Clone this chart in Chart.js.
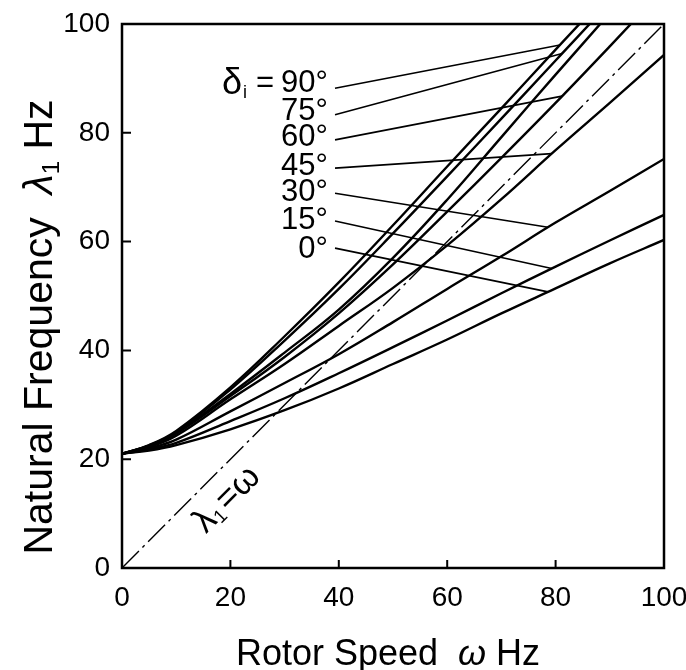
<!DOCTYPE html>
<html>
<head>
<meta charset="utf-8">
<script src="https://cdn.jsdelivr.net/npm/chart.js@4.4.0/dist/chart.umd.min.js"></script>
<style>
  html, body { margin: 0; padding: 0; background: #fff; }
  canvas { display: block; }
</style>
</head>
<body>
<canvas id="chart" width="686" height="670"></canvas>
<script>
// rotor speed (Hz) and natural frequency curves (Hz)
const rotorSpeed = [0, 5, 10, 20, 30, 40, 50, 60, 70, 80, 90, 100];
const freqDelta0  = [21, 21.6, 22.6, 25.5, 29.0, 33.0, 37.5, 42.0, 46.8, 51.4, 56.0, 60.3];
const freqDelta15 = [21, 21.8, 23.0, 27.0, 31.2, 35.8, 40.6, 45.5, 50.5, 55.4, 60.2, 64.9];
const freqDelta30 = [21, 22.0, 23.6, 28.8, 34.0, 39.3, 45.2, 51.3, 57.3, 63.5, 69.3, 75.2];
const freqDelta45 = [21, 22.2, 24.3, 31.0, 37.5, 44.5, 51.5, 59.3, 67.8, 76.8, 85.5, 94.3];
const freqDelta60 = [21, 22.4, 24.7, 31.6, 38.8, 46.8, 55.8, 65.5, 75.4, 85.5, 95.9, 106.5];
const freqExtra   = [21, 22.5, 24.9, 32.0, 39.6, 47.5, 57.0, 67.7, 79.2, 90.7, 102.0, 113.5];
const freqDelta75 = [21, 22.5, 25.0, 32.8, 41.8, 51.3, 61.5, 72.0, 82.6, 93.3, 104.0, 115];
const freqDelta90 = [21, 22.6, 25.2, 33.2, 42.6, 52.5, 63.0, 73.8, 84.5, 95.3, 106.0, 117];
const syncLine = [0, 100];   // lambda1 = omega

const xTicks = [0, 20, 40, 60, 80, 100];
const yTicks = [0, 20, 40, 60, 80, 100];

// labels for the curves and their leader lines
const labelDeg = ['90', '75', '60', '45', '30', '15', '0'];
const labelCurves = [freqDelta90, freqDelta75, freqDelta60, freqDelta45, freqDelta30, freqDelta15, freqDelta0];
const labelY = [89.0, 84.0, 79.2, 73.9, 69.1, 63.8, 58.6];
const labelRightX = 38.0;
const leaderStartX = 39.3;
const leaderStartY = [88.2, 83.3, 78.7, 73.5, 68.9, 63.8, 58.8];
const leaderEndX = [80.8, 81.2, 81.2, 79.3, 78.6, 79.3, 78.6];

const FONT = "'Liberation Sans', Arial, sans-serif";

function interp(xs, ys, v) {
  for (let i = 1; i < xs.length; i++) {
    if (v <= xs[i]) {
      const t = (v - xs[i - 1]) / (xs[i] - xs[i - 1]);
      return ys[i - 1] + t * (ys[i] - ys[i - 1]);
    }
  }
  return ys[ys.length - 1];
}

function curve(values) {
  return {
    data: rotorSpeed.map((s, i) => ({ x: s, y: values[i] })),
    borderColor: '#000',
    borderWidth: 2.4,
    pointRadius: 0,
    tension: 0.4,
    fill: false
  };
}

// no extra room for the edge tick labels
function noPad(s) {
  s.paddingLeft = 0; s.paddingRight = 0; s.paddingTop = 0; s.paddingBottom = 0;
}

const decor = {
  id: 'decor',
  afterDatasetsDraw(chart) {
    const { ctx, chartArea: a, scales: { x, y } } = chart;
    ctx.save();
    ctx.strokeStyle = '#000';
    ctx.fillStyle = '#000';

    // frame
    ctx.lineWidth = 2.5;
    ctx.strokeRect(a.left, a.top, a.right - a.left, a.bottom - a.top);

    // inward tick marks
    ctx.lineWidth = 2;
    ctx.beginPath();
    xTicks.slice(1, -1).forEach(v => {
      const px = x.getPixelForValue(v);
      ctx.moveTo(px, a.bottom); ctx.lineTo(px, a.bottom - 8);
    });
    yTicks.slice(1, -1).forEach(v => {
      const py = y.getPixelForValue(v);
      ctx.moveTo(a.left, py); ctx.lineTo(a.left + 9, py);
    });
    ctx.stroke();

    // leader lines
    ctx.lineWidth = 1.6;
    ctx.beginPath();
    labelCurves.forEach((c, i) => {
      ctx.moveTo(x.getPixelForValue(leaderStartX), y.getPixelForValue(leaderStartY[i]));
      ctx.lineTo(x.getPixelForValue(leaderEndX[i]), y.getPixelForValue(interp(rotorSpeed, c, leaderEndX[i])));
    });
    ctx.stroke();

    // curve labels
    ctx.textBaseline = 'middle';
    const rx = x.getPixelForValue(labelRightX);
    labelDeg.forEach((d, i) => {
      const py = y.getPixelForValue(labelY[i]);
      ctx.font = '31px ' + FONT;
      ctx.textAlign = 'right';
      const txt = d + '°';
      ctx.fillText(txt, rx, py);
      if (i === 0) {
        let left = rx - ctx.measureText(txt).width - 7;
        ctx.fillText('=', left, py);
        left -= ctx.measureText('=').width + 9;
        ctx.font = '18px ' + FONT;
        ctx.fillText('i', left, py + 9);
        left -= ctx.measureText('i').width + 1;
        ctx.font = '36px ' + FONT;
        ctx.fillText('δ', left, py);
      }
    });

    // lambda1 = omega along the dash-dot line
    ctx.save();
    ctx.translate(x.getPixelForValue(19.4), y.getPixelForValue(12.6));
    ctx.rotate(-Math.PI / 4);
    ctx.textAlign = 'left';
    ctx.textBaseline = 'middle';
    ctx.font = '35px ' + FONT;
    const w1 = ctx.measureText('λ').width;
    ctx.font = '19px ' + FONT;
    const w2 = ctx.measureText('1').width;
    ctx.font = '35px ' + FONT;
    const w3 = ctx.measureText('=ω').width;
    let sx = -(w1 + w2 + w3 + 3) / 2;
    ctx.fillText('λ', sx, 0); sx += w1;
    ctx.font = '19px ' + FONT;
    ctx.fillText('1', sx, 8); sx += w2 + 3;
    ctx.font = '35px ' + FONT;
    ctx.fillText('=ω', sx, 0);
    ctx.restore();

    // x axis title
    ctx.textBaseline = 'alphabetic';
    ctx.textAlign = 'left';
    ctx.font = '36px ' + FONT;
    const pA = 'Rotor Speed  ', pC = ' Hz';
    const wA = ctx.measureText(pA).width, wC = ctx.measureText(pC).width;
    ctx.font = 'italic 36px ' + FONT;
    const wB = ctx.measureText('ω').width;
    let tx = 388 - (wA + wB + wC) / 2;
    ctx.font = '36px ' + FONT;
    ctx.fillText(pA, tx, 665); tx += wA;
    ctx.font = 'italic 36px ' + FONT;
    ctx.fillText('ω', tx, 665); tx += wB;
    ctx.font = '36px ' + FONT;
    ctx.fillText(pC, tx, 665);

    // y axis title
    ctx.save();
    ctx.translate(52, 327);
    ctx.rotate(-Math.PI / 2);
    ctx.font = '41px ' + FONT;
    const q1 = 'Natural Frequency  ', q4 = ' Hz';
    const v1 = ctx.measureText(q1).width, v4 = ctx.measureText(q4).width;
    ctx.font = 'italic 41px ' + FONT;
    const v2 = ctx.measureText('λ').width;
    ctx.font = '24px ' + FONT;
    const v3 = ctx.measureText('1').width;
    let ty = -(v1 + v2 + v3 + v4) / 2;
    ctx.font = '41px ' + FONT;
    ctx.fillText(q1, ty, 0); ty += v1;
    ctx.font = 'italic 41px ' + FONT;
    ctx.fillText('λ', ty, 0); ty += v2;
    ctx.font = '24px ' + FONT;
    ctx.fillText('1', ty, 7); ty += v3;
    ctx.font = '41px ' + FONT;
    ctx.fillText(q4, ty, 0);
    ctx.restore();

    ctx.restore();
  }
};

new Chart(document.getElementById('chart'), {
  type: 'line',
  data: {
    datasets: [
      curve(freqDelta0), curve(freqDelta15), curve(freqDelta30), curve(freqDelta45),
      curve(freqDelta60), curve(freqExtra), curve(freqDelta75), curve(freqDelta90),
      {
        data: syncLine.map(v => ({ x: v, y: v })),
        borderColor: '#000',
        borderWidth: 1.4,
        borderDash: [24, 5, 3, 5],
        pointRadius: 0,
        fill: false
      }
    ]
  },
  options: {
    responsive: false,
    animation: false,
    devicePixelRatio: 1,
    layout: { autoPadding: false, padding: { top: 24, right: 22, left: 0, bottom: 0 } },
    plugins: { legend: { display: false }, tooltip: { enabled: false } },
    scales: {
      x: {
        type: 'linear', min: 0, max: 100,
        afterBuildTicks: s => { s.ticks = xTicks.map(v => ({ value: v })); },
        afterFit: s => { s.height = 102; noPad(s); },
        grid: { display: false, drawTicks: false },
        border: { display: false },
        ticks: { color: '#000', font: { family: FONT, size: 28 }, padding: 13, maxRotation: 0 }
      },
      y: {
        type: 'linear', min: 0, max: 100,
        afterBuildTicks: s => { s.ticks = yTicks.map(v => ({ value: v })); },
        afterFit: s => { s.width = 122; noPad(s); },
        grid: { display: false, drawTicks: false },
        border: { display: false },
        ticks: { color: '#000', font: { family: FONT, size: 28 }, padding: 12 }
      }
    }
  },
  plugins: [decor]
});
</script>
</body>
</html>
